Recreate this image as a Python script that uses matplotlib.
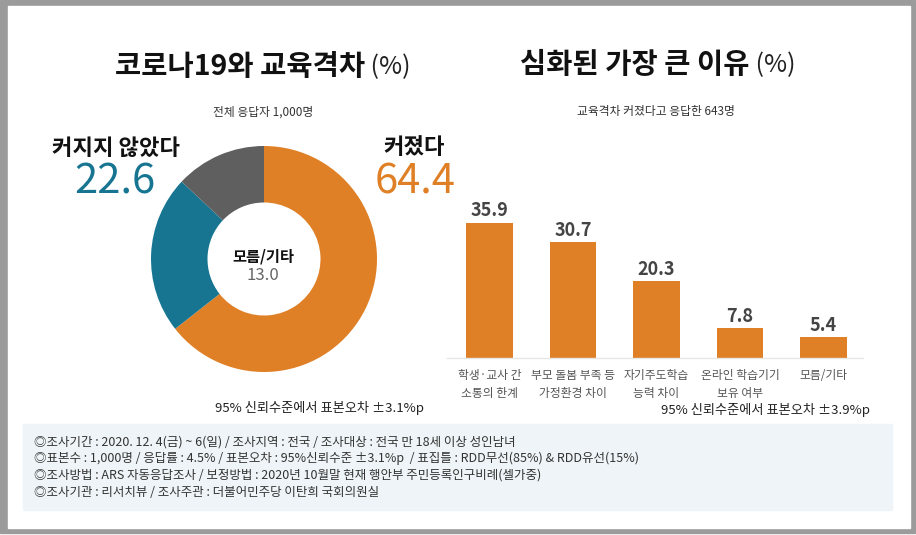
import matplotlib.pyplot as plt
from matplotlib.patches import Rectangle

plt.rcParams['font.family'] = ['Noto Sans CJK KR', 'DejaVu Sans']

# data
donut_labels = ['커졌다', '커지지 않았다', '모름/기타']
donut_values = [64.4, 22.6, 13.0]
donut_colors = ['#e08026', '#177592', '#5f5f5f']

reason_labels = ['학생·교사 간\n소통의 한계', '부모 돌봄 부족 등\n가정환경 차이', '자기주도학습\n능력 차이',
                 '온라인 학습기기\n보유 여부', '모름/기타']
reason_values = [35.9, 30.7, 20.3, 7.8, 5.4]

footer_lines = [
    '◎조사기간 : 2020. 12. 4(금) ~ 6(일) / 조사지역 : 전국 / 조사대상 : 전국 만 18세 이상 성인남녀',
    '◎표본수 : 1,000명 / 응답률 : 4.5% / 표본오차 : 95%신뢰수준 ±3.1%p  / 표집틀 : RDD무선(85%) & RDD유선(15%)',
    '◎조사방법 : ARS 자동응답조사 / 보정방법 : 2020년 10월말 현재 행안부 주민등록인구비례(셀가중)',
    '◎조사기관 : 리서치뷰 / 조사주관 : 더불어민주당 이탄희 국회의원실',
]

W, H = 916, 535
fig = plt.figure(figsize=(W / 100, H / 100), dpi=100)
fig.patch.set_facecolor('white')

# background axes in pixel coords
bg = fig.add_axes([0, 0, 1, 1])
bg.set_xlim(0, W)
bg.set_ylim(H, 0)
bg.axis('off')
bg.add_patch(Rectangle((0, 0), 915, 533, color='#9b9b9b', zorder=0))
bg.add_patch(Rectangle((8, 6), 902, 522, color='white', zorder=1))
bg.add_patch(Rectangle((23, 424), 869, 86, color='#eef4f7', zorder=2))


def title(x, y, text):
    t = bg.text(x, y, text, fontsize=20.5, fontweight='bold', color='#111111',
                ha='left', va='center', zorder=5)
    bg.annotate(' (%)', xy=(1, 0.5), xycoords=t, fontsize=18, color='#222222',
                ha='left', va='center', zorder=5)


title(115, 67, '코로나19와 교육격차')
title(520, 65, '심화된 가장 큰 이유')
bg.text(263, 112, '전체 응답자 1,000명', fontsize=8.5, color='#333333', ha='center', va='center', zorder=5)
bg.text(656, 112, '교육격차 커졌다고 응답한 643명', fontsize=8.5, color='#333333', ha='center', va='center', zorder=5)

# donut labels
bg.text(116, 148, donut_labels[1], fontsize=16, fontweight='bold', color='#111111', ha='center', va='center', zorder=5)
bg.text(115, 182, f'{donut_values[1]:.1f}', fontsize=30, fontweight='medium', color=donut_colors[1],
        ha='center', va='center', zorder=5)
bg.text(414, 148, donut_labels[0], fontsize=16, fontweight='bold', color='#111111', ha='center', va='center', zorder=5)
bg.text(415, 182, f'{donut_values[0]:.1f}', fontsize=30, fontweight='medium', color=donut_colors[0],
        ha='center', va='center', zorder=5)
bg.text(263, 256, donut_labels[2], fontsize=11, fontweight='bold', color='#111111', ha='center', va='center', zorder=5)
bg.text(263, 276, f'{donut_values[2]:.1f}', fontsize=12, color='#666666', ha='center', va='center', zorder=5)

bg.text(215, 408, '95% 신뢰수준에서 표본오차 ±3.1%p', fontsize=9.5, color='#222222', ha='left', va='center', zorder=5)
bg.text(870, 410, '95% 신뢰수준에서 표본오차 ±3.9%p', fontsize=9.5, color='#222222', ha='right', va='center', zorder=5)

for i, line in enumerate(footer_lines):
    bg.text(34, 442 + i * 16.7, line, fontsize=9, color='#333333', ha='left', va='center', zorder=5)

# donut
cx, cy, r = 264, 259, 113
ax1 = fig.add_axes([(cx - r) / W, (H - cy - r) / H, 2 * r / W, 2 * r / H])
ax1.pie(donut_values, colors=donut_colors, startangle=90, counterclock=False,
        wedgeprops=dict(width=0.5, edgecolor='none'))
ax1.set_xlim(-1, 1)
ax1.set_ylim(-1, 1)
ax1.axis('off')

# bars
x0, x1 = 447, 863
base, top = 357.5, 200
ax2 = fig.add_axes([x0 / W, (H - base) / H, (x1 - x0) / W, (base - top) / H])
ax2.patch.set_alpha(0)
xs = list(range(len(reason_values)))
ax2.bar(xs, reason_values, width=0.56, color='#e08026')
ax2.set_xlim(-0.509, 4.473)
ax2.set_ylim(0, (base - top) / 3.76)
for x, v in zip(xs, reason_values):
    ax2.text(x, v + 0.6, f'{v:.1f}', fontsize=13, fontweight='bold', color='#444444', ha='center', va='bottom')
ax2.set_xticks(xs)
ax2.set_xticklabels(reason_labels, fontsize=8.5, color='#555555', linespacing=1.5, va='top')
ax2.tick_params(axis='x', length=0, pad=8)
ax2.set_yticks([])
for s in ['top', 'left', 'right']:
    ax2.spines[s].set_visible(False)
ax2.spines['bottom'].set_color('#e6e6e6')
ax2.spines['bottom'].set_linewidth(1)

fig.savefig('out.png', dpi=100, facecolor='white')
